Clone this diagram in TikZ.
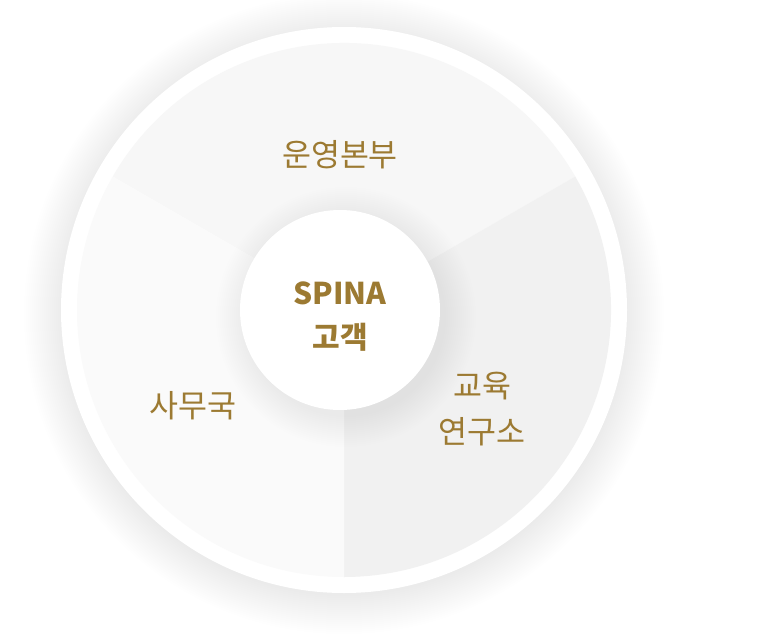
\documentclass[tikz,border=0pt]{standalone}
\usepackage{fontspec}
\setmainfont{Noto Sans CJK KR}
\definecolor{gold}{RGB}{156,122,50}
\definecolor{secTop}{RGB}{247,247,247}
\definecolor{secRight}{RGB}{241,241,241}
\definecolor{secLeft}{RGB}{250,250,250}
\tikzset{
  part/.style={text=gold, font=\fontsize{31.5}{46}\selectfont, align=center},
  hubtext/.style={text=gold, font=\bfseries\fontsize{30}{44}\selectfont, align=center}
}

\begin{document}
\begin{tikzpicture}[x=1pt, y=-1pt]

  % Canvas
  \fill[white] (0,0) rectangle (760,639);
  \useasboundingbox (0,0) rectangle (760,639);

  % Soft shadow round the ring
  \foreach \i in {0,...,19}
    \fill[black, opacity=0.0026] (344,314) circle[radius={320pt-2pt*\i}];

  % Outer ring
  \fill[white] (344,310) circle[radius=283pt];

  % Sectors
  \fill[secTop] (344,310) -- ++(150:267pt) arc[start angle=150, end angle=30, radius=267pt] -- cycle;
  \fill[secRight] (344,310) -- ++(30:267pt) arc[start angle=30, end angle=-90, radius=267pt] -- cycle;
  \fill[secLeft] (344,310) -- ++(270:267pt) arc[start angle=270, end angle=150, radius=267pt] -- cycle;

  % Shadow under the hub
  \foreach \i in {0,...,15}
    \fill[black, opacity=0.004] (346,317) circle[radius={130pt-2pt*\i}];

  % Hub
  \node[circle, fill=white, minimum size=200pt, inner sep=0pt] (hub) at (340,310) {};
  \node[hubtext] (hubLabel) at (340,317) {SPINA\\고객};

  % Part labels
  \node[part] (opsLabel) at (340,155) {운영본부};
  \node[part] (eduLabel) at (482,409) {교육\\연구소};
  \node[part] (secLabel) at (193,406) {사무국};

\end{tikzpicture}
\end{document}
